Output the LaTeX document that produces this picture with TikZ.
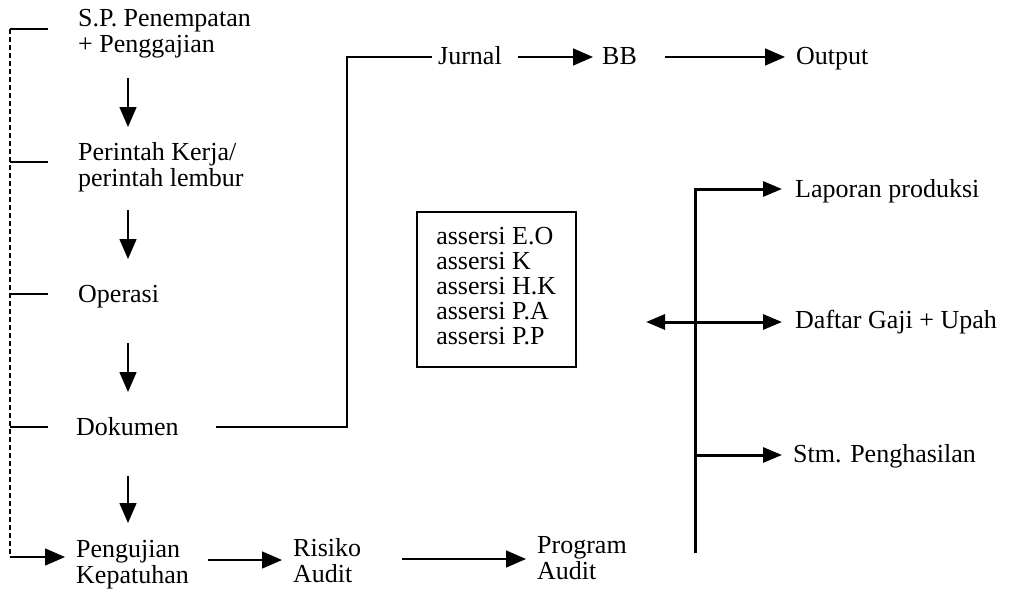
\documentclass[tikz,border=0pt]{standalone}
\usepackage{fontspec}
\setmainfont{Liberation Serif}
\usetikzlibrary{arrows.meta,calc}
\newcommand\fsA{\fontsize{26}{26}\selectfont}
\newcommand\fsB{\fontsize{26}{25}\selectfont}
\begin{document}
\begin{tikzpicture}[x=1pt,y=-1pt,
  lbl/.style={inner sep=0pt, anchor=base west, font=\fsA},
  ln/.style={line width=1.5pt},
  arr/.style={ln, -{Triangle[length=20pt,width=17pt]}},
  bold/.style={line width=3pt},
  barr/.style={bold, -{Triangle[length=19pt,width=15pt]}},
  dbarr/.style={bold, {Triangle[length=19pt,width=15pt]}-{Triangle[length=19pt,width=15pt]}},
  dashln/.style={line width=1.3pt, dash pattern=on 5pt off 3pt},
  asbox/.style={draw, ln, inner sep=0pt, minimum width=159pt, minimum height=155pt, anchor=north west, font=\fsB}
]
\useasboundingbox (0,0) rectangle (1014,594);

% left column
\node[lbl] (sp) at (78,27) {\begin{tabular}[t]{@{}l@{}}S.P. Penempatan\\+ Penggajian\end{tabular}};
\node[lbl] (pk) at (78,160) {\begin{tabular}[t]{@{}l@{}}Perintah Kerja/\\perintah lembur\end{tabular}};
\node[lbl] (op) at (78,302) {Operasi};
\node[lbl] (dk) at (76,435) {Dokumen};
\node[lbl] (pj) at (76,557) {\begin{tabular}[t]{@{}l@{}}Pengujian\\Kepatuhan\end{tabular}};
\node[lbl] (rs) at (293,556) {\begin{tabular}[t]{@{}l@{}}Risiko\\Audit\end{tabular}};
\node[lbl] (pg) at (537,553) {\begin{tabular}[t]{@{}l@{}}Program\\Audit\end{tabular}};

% top row
\node[lbl] (ju) at (438,65) {Jurnal};
\node[lbl] (bb) at (602,65) {BB};
\node[lbl] (ou) at (796,65) {Output};

% right side
\node[lbl] (lp) at (795,197) {Laporan produksi};
\node[lbl] (dg) at (795,328) {Daftar Gaji + Upah};
\node[lbl] (st) at (793,462) {Stm. Penghasilan};

% assertion box
\node[asbox] (as) at (416,211) {\begin{tabular}{@{}l@{}}assersi E.O\\assersi K\\assersi H.K\\assersi P.A\\assersi P.P\end{tabular}};

% vertical flow arrows
\draw[arr] ($(sp.base west)+(50,51)$) -- ($(pk.base west)+(50,-33)$);
\draw[arr] ($(pk.base west)+(50,50)$) -- ($(op.base west)+(50,-43)$);
\draw[arr] ($(op.base west)+(50,41)$) -- ($(dk.base west)+(52,-43)$);
\draw[arr] ($(dk.base west)+(52,41)$) -- ($(pj.base west)+(52,-34)$);

% dashed bracket on the left
\coordinate (dt) at (10,29);
\coordinate (db) at (10,557);
\draw[ln] ($(sp.base west)+(-30,2)$) -- (dt);
\draw[ln] ($(pk.base west)+(-30,2)$) -- ($(pk.base west)+(-68,2)$);
\draw[ln] ($(op.base west)+(-30,-8)$) -- ($(op.base west)+(-68,-8)$);
\draw[ln] ($(dk.base west)+(-28,-8)$) -- ($(dk.base west)+(-66,-8)$);
\draw[dashln] (dt) -- (db);
\draw[arr] (db) -- ($(pj.base west)+(-11,0)$);

% Dokumen -> Jurnal
\coordinate (jx) at (347,0);
\coordinate (d1) at ($(dk.base west)+(140,-8)$);
\draw[ln] (d1) -- (d1 -| jx) |- ($(ju.base west)+(-6,-8)$);
\draw[arr] ($(ju.base west)+(80,-8)$) -- ($(bb.base west)+(-9,-8)$);
\draw[arr] ($(bb.base west)+(63,-8)$) -- ($(ou.base west)+(-11,-8)$);

% bottom row
\draw[arr] ($(pj.base west)+(132,3)$) -- ($(rs.base west)+(-11,4)$);
\draw[arr] ($(rs.base west)+(109,3)$) -- ($(pg.base west)+(-11,6)$);

% right bus
\coordinate (vb) at (695,553);
\draw[barr] (vb) |- ($(lp.base west)+(-13,-8)$);
\coordinate (stt) at ($(st.base west)+(-11,-7)$);
\draw[barr] (vb |- stt) -- (stt);
\coordinate (dgt) at ($(dg.base west)+(-13,-6)$);
\coordinate (dl) at (646,322);
\draw[dbarr] (dl) -- (dgt);
\end{tikzpicture}
\end{document}
